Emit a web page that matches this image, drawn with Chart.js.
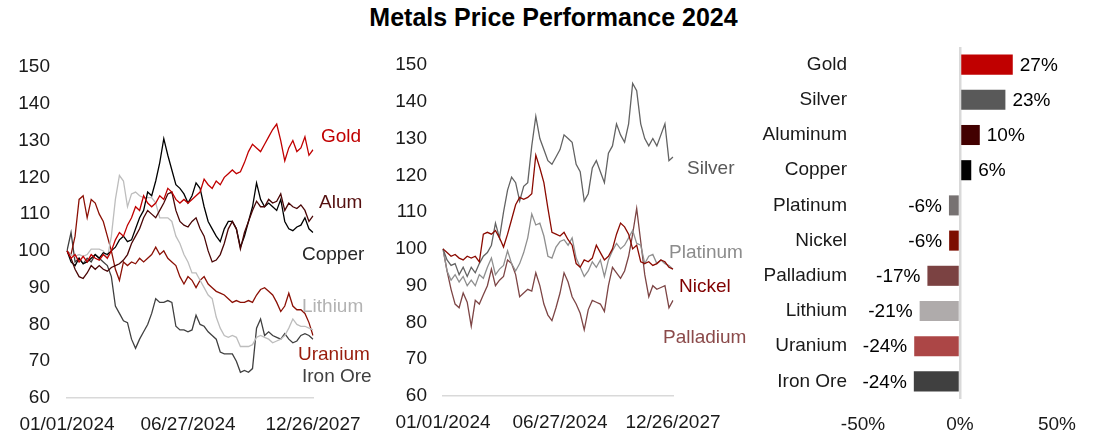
<!DOCTYPE html>
<html>
<head>
<meta charset="utf-8">
<script src="https://cdn.jsdelivr.net/npm/chart.js@4.4.1/dist/chart.umd.min.js"></script>
<style>
    html, body { margin: 0; padding: 0; background: #fff; }
    #wrap { position: relative; width: 1107px; height: 446px; overflow: hidden; }
    #title { position: absolute; left: 0; top: 3px; width: 1107px; text-align: center;
             font: bold 25px 'Liberation Sans', Arial, sans-serif; color: #000; }
    .panel { position: absolute; top: 0; height: 446px; }
</style>
</head>
<body>
<div id="wrap">
    <div id="title">Metals Price Performance 2024</div>
    <div class="panel" style="left:0;width:380px"><canvas id="left-chart"></canvas></div>
    <div class="panel" style="left:380px;width:380px"><canvas id="mid-chart"></canvas></div>
    <div class="panel" style="left:760px;width:347px"><canvas id="bar-chart"></canvas></div>
</div>
<script>
/**
 * Metals price performance 2024 - rebased to 100
 */

const FONT = "'Liberation Sans', Arial, sans-serif";

// left panel
const leftTickLabels = ['01/01/2024', '06/27/2024', '12/26/2027'];
const leftTickIndex = [0, 30, 61];
const leftNames = ['Gold', 'Alum', 'Copper', 'Lithium', 'Uranium', 'Iron Ore'];
const gold = [100, 98, 99, 97, 98.5, 97, 99, 98, 97.5, 99, 98, 100, 103, 105, 104, 107, 109, 112, 111, 115,
    113, 112, 113, 115, 114, 117, 116, 114, 113, 114, 113, 114, 115, 116, 119.5, 118, 117, 119, 118, 120,
    121, 122, 121, 121.5, 124, 127, 129, 128, 127, 129, 131, 133, 134.5, 130, 124.5, 128, 130, 127, 128, 131, 126, 127.5];
const alum = [100, 98, 95, 93, 92.5, 94, 96, 95, 96, 95, 94.5, 95.5, 96, 96.5, 97.5, 99, 102, 104, 106, 109,
    111, 110, 109, 111, 113, 115.5, 116, 111, 108, 107, 106.5, 108, 109, 106, 104, 100, 97, 97.5, 99, 102,
    106, 108, 106, 100.5, 105, 108, 111, 113.5, 112, 112, 114, 113, 113.5, 115.5, 111, 113, 112, 111.5, 112.5, 111, 108, 109.5];
const copper = [100, 97, 96, 98, 96.5, 97, 98, 99, 98, 99.5, 99, 100, 101, 103, 104, 102.5, 103, 106, 109, 111,
    116, 115, 119, 124, 130.5, 126, 122, 118, 117, 115.5, 113, 115, 118.5, 117, 112, 108, 106, 104, 102.5, 106,
    108, 108, 106, 101, 104, 108, 112, 118.5, 114, 112, 113, 112, 111, 114, 108, 106, 105.5, 106.5, 107, 109, 106, 105];
const lithium = [100, 99, 98.5, 99, 98.5, 99, 100.5, 100.5, 100.5, 100, 98, 104, 114, 120.5, 119, 112, 115.5, 116, 115, 114.5,
    114.5, 114.5, 113, 109, 109, 109, 108, 104, 102, 99, 97, 94, 94, 92, 90, 88, 87, 82, 79, 77,
    76.5, 77, 76.5, 74, 74, 74, 74.5, 76.5, 77, 76.5, 76, 75, 75.5, 76, 77, 79, 81.5, 80, 79.5, 79.5, 79, 78.5];
const uranium = [100, 99, 104, 114, 115, 109, 114, 113, 110, 108, 104, 100, 95, 92, 97, 96, 97, 96.5, 98, 97,
    98, 99, 101, 99, 100, 98, 97, 96, 93, 91, 93, 92, 90, 92, 93, 91, 90, 89, 88.5, 88,
    87, 86, 86.5, 86, 86, 86.5, 86, 88, 89.5, 90, 89, 88, 86, 83.5, 85, 88.5, 85, 84, 84, 83, 80.5, 77];
const ironOre = [100, 105, 97, 98, 96.5, 98, 97, 99, 98, 97, 96, 93, 85, 83, 81, 80.5, 76, 73.5, 76, 78,
    80, 83, 87, 86, 86, 86.5, 86, 79.5, 78.5, 78.5, 78, 78.5, 82.5, 80, 79.5, 78, 77, 76, 72.5, 72,
    72, 72, 70, 67, 67.5, 67, 68, 79, 81.5, 77, 78, 77, 76.5, 76, 77.5, 76, 75, 75.5, 77, 77.5, 77, 76];

// middle panel
const midTickLabels = ['01/01/2024', '06/27/2024', '12/26/2027'];
const midTickIndex = [0, 29, 57];
const silver = [100, 97, 95.5, 96, 93, 95, 92.5, 95, 93.5, 96, 98, 99, 101, 107, 103, 110, 116, 119.5, 118, 113,
    117, 118, 128, 136, 130, 127, 124, 123, 125, 127, 131, 130, 129, 123, 121, 113, 115, 122, 124, 121,
    118, 126, 128, 134, 131, 129, 134, 145, 143, 134, 130, 128, 130, 128, 131, 134, 124, 125];
const platinum = [100, 94, 91.5, 93, 91, 92.5, 90, 91.5, 90, 93, 92, 95, 97.5, 93, 94.5, 95.5, 99.5, 96, 94, 96,
    99, 103, 109.5, 106.5, 107, 103.5, 98, 97.5, 100.5, 102, 102.5, 101, 103, 97.5, 95, 92.5, 94, 96.5, 95, 97,
    92.5, 97, 99.5, 101.5, 100, 101, 103, 105, 101.5, 101, 96, 98, 98.5, 96, 97, 96, 95.5, 94.5];
const nickel = [100, 99, 98, 98.5, 97.5, 97, 98, 97.5, 98, 96.5, 104, 104.5, 104, 105, 103, 100.5, 104, 108, 112, 114,
    113.5, 114, 115, 125.5, 122, 118, 111, 104.5, 104, 103.5, 104.5, 102.5, 101, 96, 95, 97, 96.5, 97.5, 101, 99,
    97, 98, 100, 104, 107, 106, 104, 100, 101, 96.5, 96, 96.5, 95.5, 96, 97, 96.5, 95, 94.5];
const palladium = [100, 94, 89, 85, 84, 88, 85.5, 79, 86, 85, 87.5, 90, 94.5, 90, 91.5, 92.5, 97, 96, 93, 87,
    88, 89, 88.5, 93.5, 90, 85, 82, 80.5, 84, 88, 93.5, 91, 87, 85, 82.5, 78, 83.5, 86, 85.5, 85,
    83, 90, 95, 93.5, 92, 94, 98, 104, 111, 102, 93, 87, 90, 89, 89.5, 90, 84, 86];

// bar panel (% change 2024)
const barNames = ['Gold', 'Silver', 'Aluminum', 'Copper', 'Platinum', 'Nickel', 'Palladium', 'Lithium', 'Uranium', 'Iron Ore'];
const barValues = [27.2, 23.4, 10.2, 5.8, -5.7, -5.6, -16.8, -20.8, -23.6, -23.8];

const colors = {
    gold: '#c00000',
    alum: '#4a0606',
    copper: '#000000',
    lithium: '#bdbdbd',
    uranium: '#8b1005',
    ironOre: '#404040',
    silver: '#636363',
    platinum: '#8f8f8f',
    nickel: '#8b0a00',
    palladium: '#7d4545',
    axis: '#d9d9d9',
    text: '#1a1a1a'
};

const barColors = ['#c00000', '#595959', '#420000', '#000000', '#777272', '#7c0e00', '#7b4242', '#afabab', '#ac4646', '#404040'];

Chart.defaults.font.family = FONT;
Chart.defaults.font.size = 19;
Chart.defaults.color = colors.text;
Chart.defaults.animation = false;

/**
 * Series name written next to the line ends
 */
const seriesLabelPlugin = {
    id: 'seriesLabels',
    afterDatasetsDraw(chart, args, opts) {
        const { ctx, chartArea, scales } = chart;
        ctx.save();
        ctx.font = '19px ' + FONT;
        ctx.textBaseline = 'middle';
        ctx.textAlign = 'left';
        (opts.items || []).forEach(it => {
            ctx.fillStyle = it.color;
            ctx.fillText(it.text, chartArea.right + it.dx, scales.y.getPixelForValue(it.y));
        });
        ctx.restore();
    }
};

/**
 * Percent labels at the bar ends
 */
const barValuePlugin = {
    id: 'barValues',
    afterDatasetsDraw(chart) {
        const { ctx } = chart;
        const meta = chart.getDatasetMeta(0);
        ctx.save();
        ctx.font = '19px ' + FONT;
        ctx.fillStyle = '#000';
        ctx.textBaseline = 'middle';
        meta.data.forEach((bar, i) => {
            const v = barValues[i];
            const txt = Math.round(v) + '%';
            if (v >= 0) {
                ctx.textAlign = 'left';
                ctx.fillText(txt, bar.x + 7, bar.y + 1);
            } else {
                ctx.textAlign = 'right';
                ctx.fillText(txt, bar.x - 7, bar.y + 1);
            }
        });
        ctx.restore();
    }
};

function buildLabels(count, idx, texts) {
    const labels = new Array(count).fill('');
    idx.forEach((p, i) => { labels[p] = texts[i]; });
    return labels;
}

function createLineChart(id, labels, series, names, lineColors, nameItems, geom) {
    const ctx = document.getElementById(id);
    return new Chart(ctx, {
        type: 'line',
        data: {
            labels: labels,
            datasets: series.map((s, i) => ({
                label: names[i],
                data: s,
                borderColor: lineColors[i],
                borderWidth: 1.3,
                pointRadius: 0,
                tension: 0,
                fill: false
            }))
        },
        options: {
            responsive: true,
            maintainAspectRatio: false,
            layout: { padding: { left: 0, right: geom.padRight, top: geom.padTop, bottom: 0 } },
            plugins: {
                legend: { display: false },
                tooltip: { enabled: false },
                seriesLabels: { items: nameItems }
            },
            scales: {
                x: {
                    type: 'category',
                    grid: { display: false, drawTicks: false },
                    border: { display: true, color: colors.axis, width: 1.5 },
                    ticks: { autoSkip: false, maxRotation: 0, padding: 15, color: colors.text },
                    afterFit: s => { s.height = geom.xAxisHeight; }
                },
                y: {
                    min: 60,
                    max: 150,
                    grid: { display: false, drawTicks: false },
                    border: { display: false },
                    ticks: { stepSize: 10, padding: geom.tickPad, color: colors.text },
                    afterFit: s => { s.width = geom.axisWidth; }
                }
            }
        },
        plugins: [seriesLabelPlugin]
    });
}

function createBarChart() {
    const ctx = document.getElementById('bar-chart');
    return new Chart(ctx, {
        type: 'bar',
        data: {
            labels: barNames,
            datasets: [{
                data: barValues,
                backgroundColor: barColors,
                borderWidth: 0,
                barPercentage: 0.57,
                categoryPercentage: 1
            }]
        },
        options: {
            indexAxis: 'y',
            responsive: true,
            maintainAspectRatio: false,
            layout: { padding: { left: 0, right: 50, top: 47, bottom: 0 } },
            plugins: { legend: { display: false }, tooltip: { enabled: false } },
            scales: {
                x: {
                    min: -50,
                    max: 50,
                    grid: {
                        color: c => (c.tick && c.tick.value === 0) ? colors.axis : 'rgba(0,0,0,0)',
                        lineWidth: 2.5,
                        drawTicks: false
                    },
                    border: { display: false },
                    ticks: { stepSize: 50, padding: 14, color: colors.text, callback: v => v + '%' },
                    afterFit: s => { s.height = 47; }
                },
                y: {
                    grid: { display: false, drawTicks: false },
                    border: { display: false },
                    ticks: { padding: 16, color: colors.text },
                    afterFit: s => { s.width = 103; }
                }
            }
        },
        plugins: [barValuePlugin]
    });
}

createLineChart(
    'left-chart',
    buildLabels(gold.length, leftTickIndex, leftTickLabels),
    [gold, alum, copper, lithium, uranium, ironOre],
    leftNames,
    [colors.gold, colors.alum, colors.copper, colors.lithium, colors.uranium, colors.ironOre],
    [
        { text: 'Gold', color: colors.gold, y: 131, dx: 8 },
        { text: 'Alum', color: '#551010', y: 113, dx: 6 },
        { text: 'Copper', color: '#262626', y: 98.9, dx: -11 },
        { text: 'Lithium', color: '#b3b3b3', y: 84.7, dx: -11 },
        { text: 'Uranium', color: '#981c0c', y: 71.7, dx: -15 },
        { text: 'Iron Ore', color: '#404040', y: 65.7, dx: -11 }
    ],
    { axisWidth: 67, padRight: 67, padTop: 67, xAxisHeight: 48, tickPad: 17 }
);

createLineChart(
    'mid-chart',
    buildLabels(silver.length, midTickIndex, midTickLabels),
    [nickel, silver, platinum, palladium],
    ['Nickel', 'Silver', 'Platinum', 'Palladium'],
    [colors.nickel, colors.silver, colors.platinum, colors.palladium],
    [
        { text: 'Silver', color: '#595959', y: 121.7, dx: 14 },
        { text: 'Platinum', color: '#8c8c8c', y: 98.9, dx: -4 },
        { text: 'Nickel', color: '#800000', y: 89.6, dx: 6 },
        { text: 'Palladium', color: '#8b4a4a', y: 75.8, dx: -10 }
    ],
    { axisWidth: 63, padRight: 87, padTop: 65, xAxisHeight: 50, tickPad: 16 }
);

createBarChart();
</script>
</body>
</html>
